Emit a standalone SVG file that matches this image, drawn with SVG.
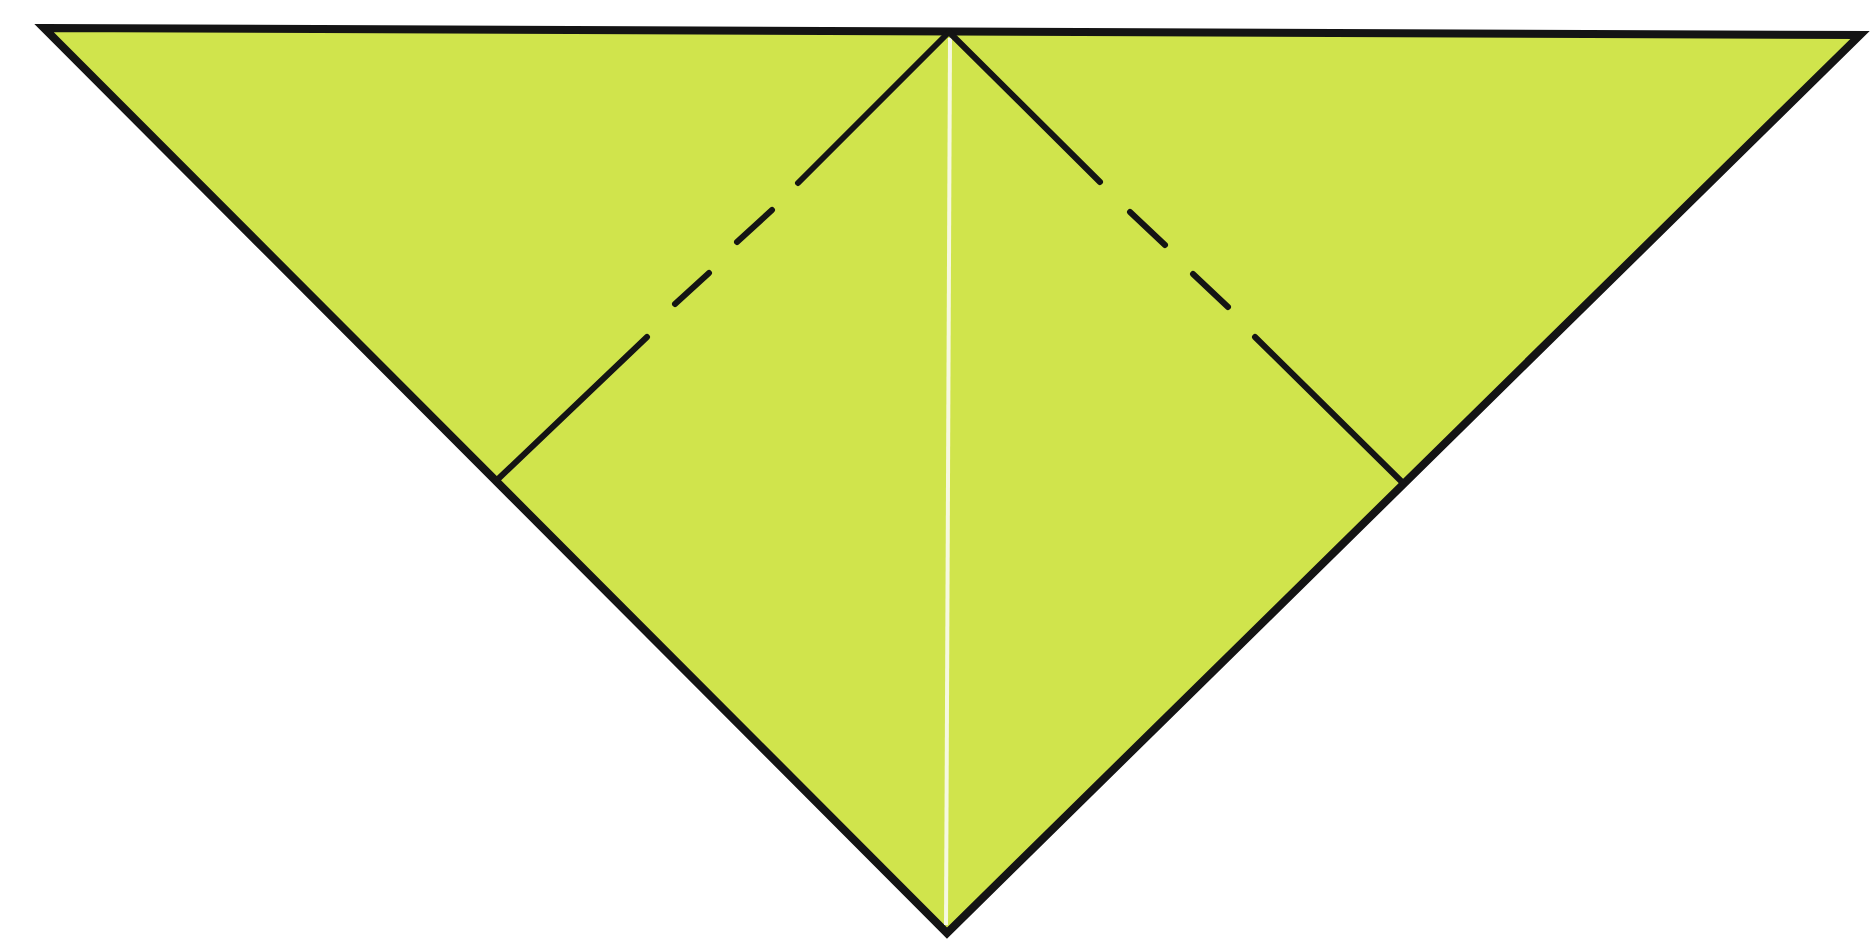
<svg xmlns="http://www.w3.org/2000/svg" width="1871" height="945" viewBox="0 0 1871 945">
<style>
.paper{fill:#d0e44c;stroke:#141414;stroke-width:8;stroke-linejoin:miter}
.fold{fill:none;stroke:#141414;stroke-width:6;stroke-linecap:round}
.crease{fill:none;stroke:#f6f8e0;stroke-width:4}
</style>
<rect width="1871" height="945" fill="#fff"/>
<g id="paper">
<polygon class="paper" points="44,28 1860,35 947,933"/>
</g>
<g id="crease">
<line class="crease" x1="950" y1="38" x2="946" y2="925"/>
</g>
<g id="folds">
<path class="fold" d="M496,481 L647,337 M675,304 L709,273 M737,242 L772,210 M798,183 L949,32"/>
<path class="fold" d="M949,32 L1100,182 M1130,212 L1165,245 M1193,274 L1228,307 M1255,337 L1403,483"/>
</g>
</svg>
